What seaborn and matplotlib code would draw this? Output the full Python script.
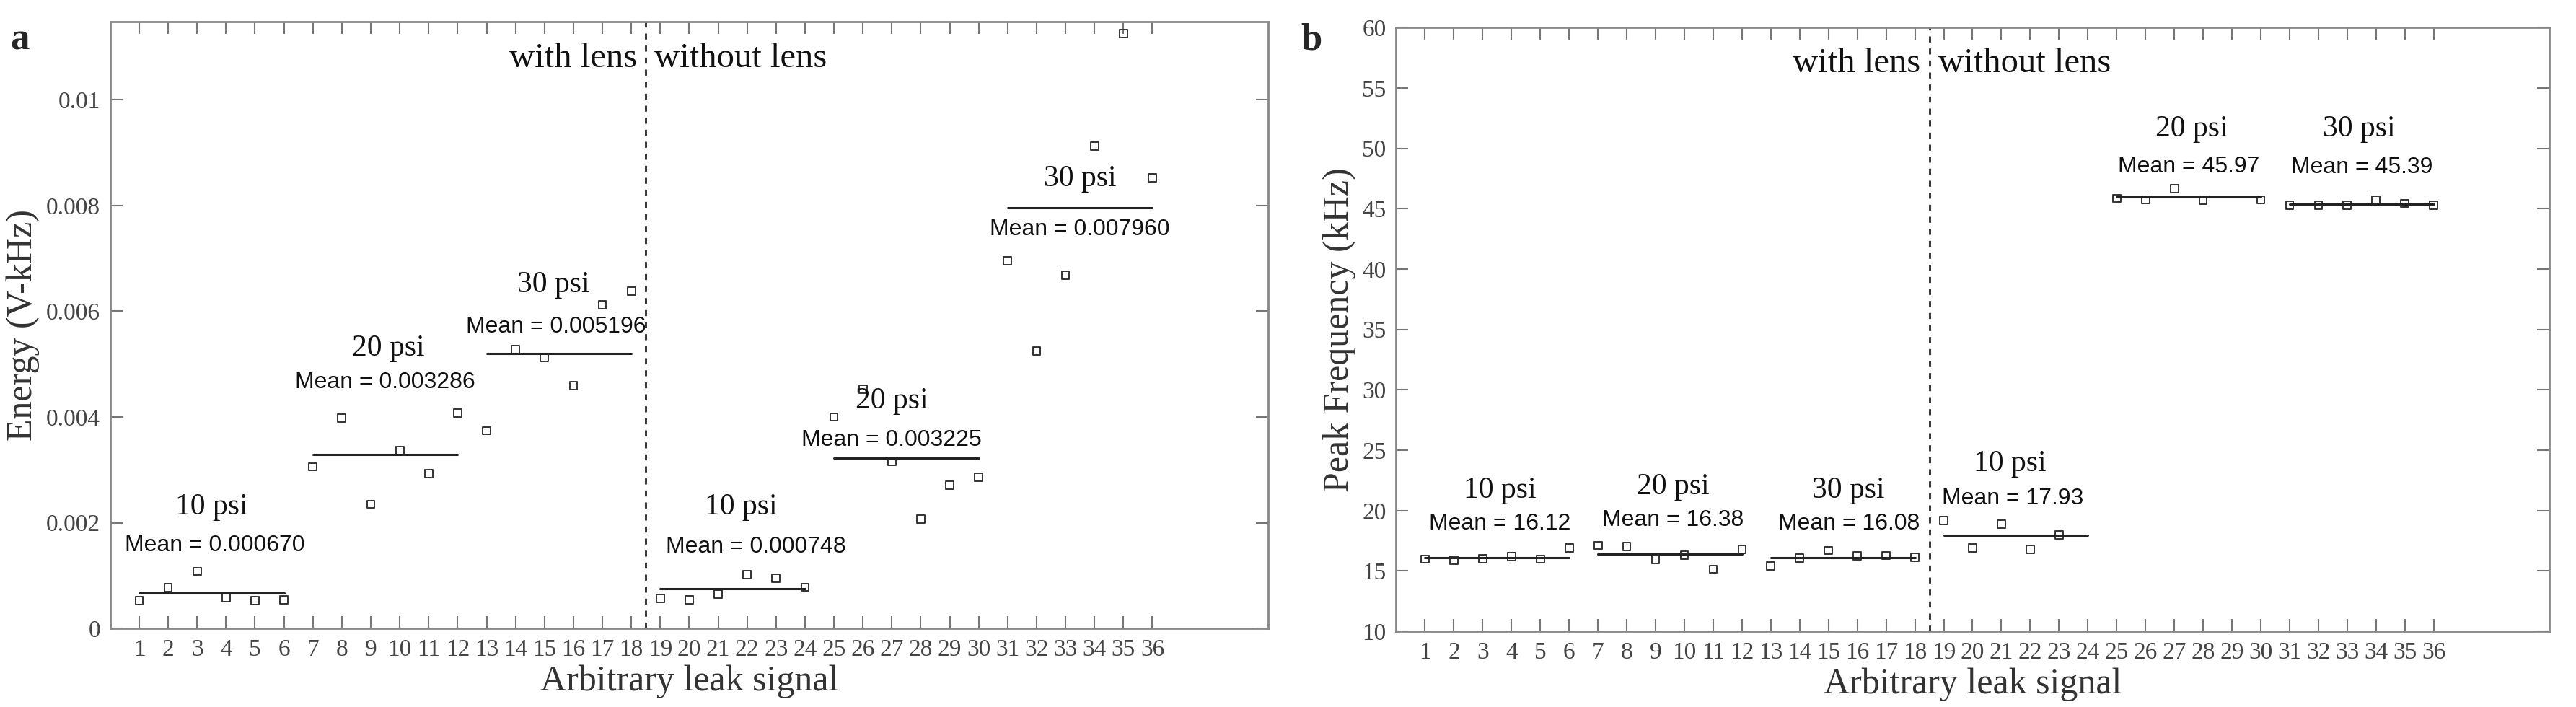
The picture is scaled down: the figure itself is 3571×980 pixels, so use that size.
import matplotlib
matplotlib.use("Agg")
import matplotlib.pyplot as plt
import seaborn as sns
import numpy as np
import pandas as pd

sns.set_theme(style="white")
plt.rcParams['font.family'] = ['Liberation Serif', 'DejaVu Serif']
SERIF = ['Liberation Serif', 'DejaVu Serif']
SANS = ["Liberation Sans", "DejaVu Sans"]

# Panel a: energy
energy_x = list(range(1, 37))
energy = [0.00053, 0.00077, 0.00108, 0.00058, 0.00053, 0.00054,
          0.00306, 0.00398, 0.00235, 0.00337, 0.00293, 0.00408,
          0.00374, 0.00528, 0.00512, 0.00459, 0.00612, 0.00638,
          0.00057, 0.00054, 0.00065, 0.00102, 0.00095, 0.00078,
          0.00400, 0.00453, 0.00316, 0.00207, 0.00271, 0.00286,
          0.00695, 0.00525, 0.00668, 0.00912, 0.01125, 0.00852]
energy_means = [0.000670, 0.003286, 0.005196, 0.000748, 0.003225, 0.007960]
energy_mean_labels = ["Mean = 0.000670", "Mean = 0.003286", "Mean = 0.005196",
                      "Mean = 0.000748", "Mean = 0.003225", "Mean = 0.007960"]

# Panel b: peak frequency
freq_x = [1, 2, 3, 4, 5, 6, 7, 8, 9, 10, 11, 12, 13, 14, 15, 16, 17, 18,
          19, 20, 21, 22, 23, 25, 26, 27, 28, 30, 31, 32, 33, 34, 35, 36]
freq = [15.98, 15.90, 16.00, 16.17, 15.98, 16.93,
        17.12, 17.04, 15.94, 16.32, 15.14, 16.78,
        15.41, 16.05, 16.70, 16.24, 16.28, 16.13,
        19.16, 16.92, 18.90, 16.80, 17.98,
        45.86, 45.74, 46.65, 45.70, 45.74,
        45.29, 45.29, 45.29, 45.74, 45.44, 45.29]
freq_means = [16.12, 16.38, 16.08, 17.93, 45.97, 45.39]
freq_mean_labels = ["Mean = 16.12", "Mean = 16.38", "Mean = 16.08",
                    "Mean = 17.93", "Mean = 45.97", "Mean = 45.39"]

group_start = [1, 7, 13, 19, 25, 31]
psi_labels = ["10 psi", "20 psi", "30 psi", "10 psi", "20 psi", "30 psi"]

fig = plt.figure(figsize=(35.71, 9.8), dpi=100)
axa = fig.add_axes([0.0428, 0.111, 0.4495, 0.858])
axb = fig.add_axes([0.542, 0.107, 0.4475, 0.854])

def style(ax, yticks, ylim, ylabel, fmt):
    ax.set_xlim(0, 40)
    ax.set_ylim(*ylim)
    ax.set_xticks(range(1, 37))
    ax.set_xticklabels([str(i) for i in range(1, 37)], family=SERIF)
    ax.set_yticks(yticks)
    ax.set_yticklabels([fmt(v) for v in yticks], family=SERIF)
    ax.tick_params(axis='both', which='both', direction='in', top=True, right=True,
                   length=12, width=1.5, color="#777777", labelsize=24, labelcolor="#444444",
                   bottom=True, left=True, pad=10)
    for s in ax.spines.values():
        s.set_color("#888888"); s.set_linewidth(2)
    ax.set_xlabel("Arbitrary leak signal", fontsize=36, color="#333333", labelpad=4, family=SERIF)
    ax.set_ylabel(ylabel, fontsize=36, color="#333333", family=SERIF, labelpad=6)
    ax.grid(False)

def draw(ax, xs, ys, means, mlabels, ylim, psi_pos, mean_pos):
    df = pd.DataFrame({"x": xs, "y": ys})
    sns.scatterplot(data=df, x="x", y="y", ax=ax, marker="s", s=60,
                    facecolors="none", edgecolor="#333333", linewidth=1.4)
    for g, m in zip(group_start, means):
        ax.plot([g, g + 5], [m, m], color="#222222", lw=2.2)
    ax.axvline(18.5, color="#222222", ls=(0, (3, 3)), lw=2)
    ytop = ylim[0] + 0.94 * (ylim[1] - ylim[0])
    ax.text(18.2, ytop, "with lens", ha="right", va="center", fontsize=35, color="#111111", family=SERIF)
    ax.text(18.8, ytop, "without lens", ha="left", va="center", fontsize=35, color="#111111", family=SERIF)
    for lab, (px, py) in zip(psi_labels, psi_pos):
        ax.text(px, py, lab, ha="center", va="center", fontsize=30, color="#111111", family=SERIF)
    for lab, (px, py) in zip(mlabels, mean_pos):
        ax.text(px, py, lab, ha="center", va="center", fontsize=23, color="#111111", family=SANS)

style(axa, [0, 0.002, 0.004, 0.006, 0.008, 0.01], (0, 0.01147), "Energy (V-kHz)",
      lambda v: "0" if v == 0 else f"{v:g}")
draw(axa, energy_x, energy, energy_means, energy_mean_labels, (0, 0.01147),
     [(3.5, 0.00230), (9.6, 0.00530), (15.3, 0.00650), (21.8, 0.00230), (27.0, 0.00430), (33.5, 0.00850)],
     [(3.6, 0.00157), (9.5, 0.00465), (15.4, 0.00570), (22.3, 0.00155), (27.0, 0.00357), (33.5, 0.00755)])

style(axb, list(range(10, 61, 5)), (10, 60), "Peak Frequency (kHz)", lambda v: str(v))
draw(axb, freq_x, freq, freq_means, freq_mean_labels, (10, 60),
     [(3.6, 21.7), (9.6, 22.0), (15.7, 21.7), (21.3, 23.9), (27.6, 51.6), (33.4, 51.6)],
     [(3.6, 18.9), (9.6, 19.2), (15.7, 18.9), (21.4, 21.0), (27.5, 48.5), (33.5, 48.4)])

fig.text(0.004, 0.93, "a", fontsize=38, fontweight="bold", family=SERIF)
fig.text(0.505, 0.93, "b", fontsize=38, fontweight="bold", family=SERIF)

fig.savefig("out.png", dpi=100, facecolor="white")
